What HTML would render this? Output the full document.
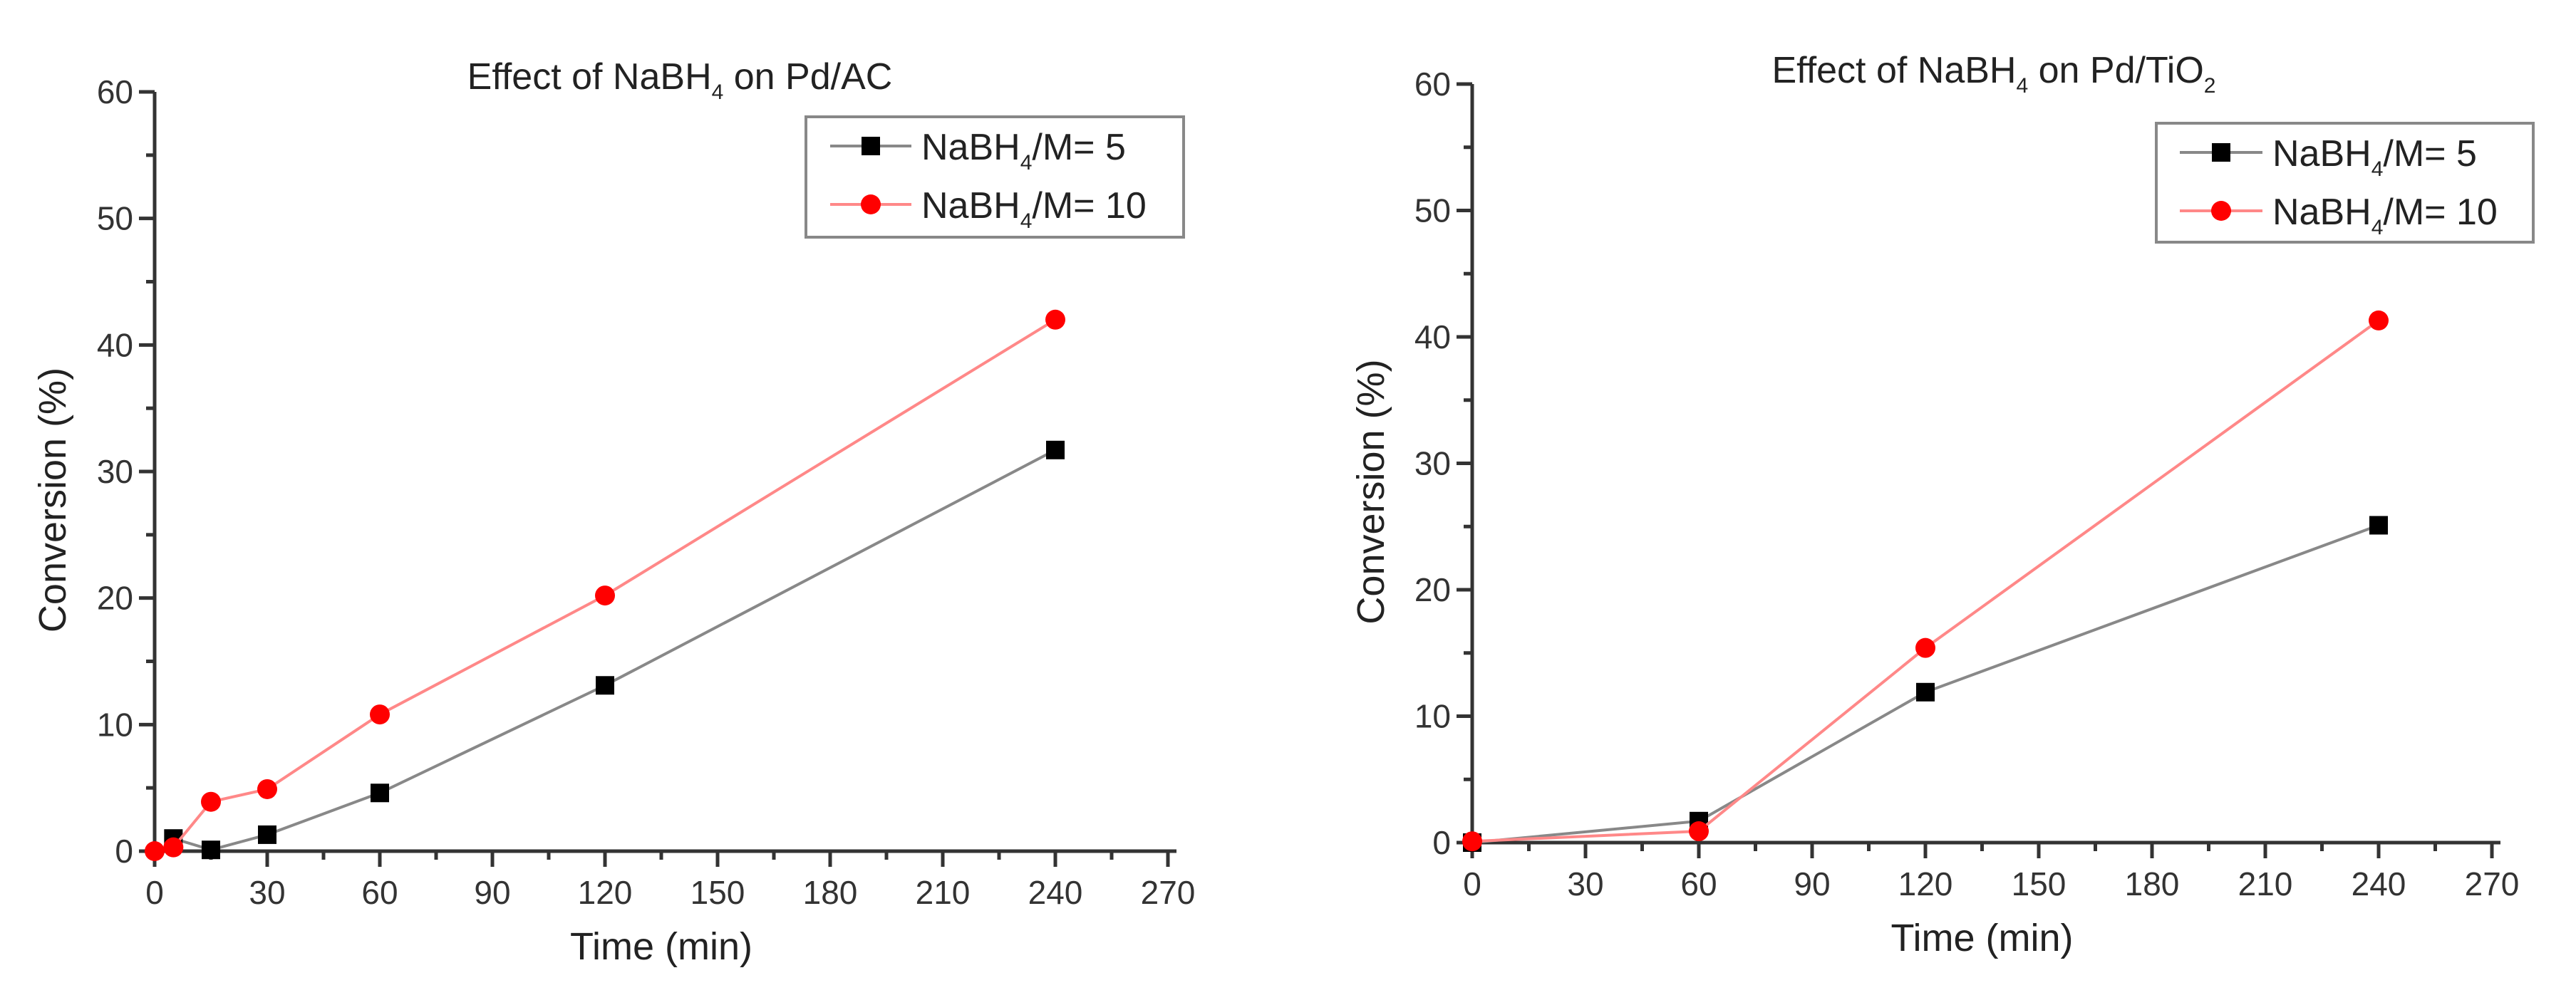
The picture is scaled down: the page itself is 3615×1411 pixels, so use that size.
<!DOCTYPE html>
<html><head><meta charset="utf-8"><style>
html,body{margin:0;padding:0;background:#fff;}
svg{display:block;font-family:"Liberation Sans",Arial,sans-serif;}
</style></head><body>
<svg id="c" width="3615" height="1411" viewBox="0 0 3615 1411"></svg>
<script>
const xTicks=[0,30,60,90,120,150,180,210,240,270];
const yTicks=[0,10,20,30,40,50,60];
const acTime5=[5,15,30,60,120,240];
const acConv5=[1.0,0.1,1.3,4.6,13.1,31.7];
const acTime10=[0,5,15,30,60,120,240];
const acConv10=[0,0.3,3.9,4.9,10.8,20.2,42.0];
const tiTime5=[0,60,120,240];
const tiConv5=[0,1.7,11.9,25.1];
const tiTime10=[0,60,120,240];
const tiConv10=[0.1,0.9,15.4,41.3];

const NS='http://www.w3.org/2000/svg';
const svg=document.getElementById('c');
function mk(tag,attrs,parent){const e=document.createElementNS(NS,tag);for(const k in attrs)e.setAttribute(k,attrs[k]);(parent||svg).appendChild(e);return e;}

function chart(cfg){
  const g=mk('g',{});
  
  
  const sx=v=>cfg.x0+(v-0)/270*(cfg.x1-cfg.x0);
  const sy=v=>cfg.y0-(v-0)/60*(cfg.y0-cfg.y1);
  const t=mk('text',{x:cfg.tx,y:cfg.ty,'text-anchor':'middle','font-size':52,fill:'#222'},g);
  
  
  t.innerHTML=cfg.title;
  const ax=mk('path',{d:`M${cfg.x0},${cfg.y1} L${cfg.x0},${cfg.y0} L${cfg.x1+12},${cfg.y0}`,stroke:'#333','stroke-width':5,fill:'none'},g);
  
  
  for(let v=0;v<=270;v+=15){
    const major=v%30===0;
    const tk=mk('line',{x1:sx(v),x2:sx(v),y1:cfg.y0,y2:cfg.y0+(major?22:12),stroke:'#333','stroke-width':5},g);
    
    
  }
  xTicks.forEach(v=>{
    const l=mk('text',{x:sx(v),y:cfg.y0+74,'text-anchor':'middle','font-size':46,fill:'#333'},g);
    
    
    l.textContent=v;
  });
  for(let v=0;v<=60;v+=5){
    const major=v%10===0;
    const tk=mk('line',{x1:cfg.x0,x2:cfg.x0-(major?22:12),y1:sy(v),y2:sy(v),stroke:'#333','stroke-width':5},g);
    
    
  }
  yTicks.forEach(v=>{
    const l=mk('text',{x:cfg.x0-30,y:sy(v)+16,'text-anchor':'end','font-size':46,fill:'#333'},g);
    
    
    l.textContent=v;
  });
  const xt=mk('text',{x:(cfg.x0+cfg.x1)/2,y:cfg.y0+152,'text-anchor':'middle','font-size':54,fill:'#222'},g);
  
  
  xt.textContent='Time (min)';
  const yt=mk('text',{x:0,y:0,'text-anchor':'middle','font-size':54,fill:'#222',transform:`translate(${cfg.ytx},${(cfg.y0+cfg.y1)/2+40}) rotate(-90)`},g);
  
  
  yt.textContent='Conversion (%)';
  cfg.series.forEach(s=>{
    const pts=s.t.map((v,i)=>sx(v)+','+sy(s.c[i])).join(' ');
    const pl=mk('polyline',{points:pts,fill:'none',stroke:s.line,'stroke-width':4},g);
    
    
    s.t.forEach((v,i)=>{
      let m;
      if(s.sq) m=mk('rect',{x:sx(v)-13,y:sy(s.c[i])-13,width:26,height:26,fill:'#000'},g);
      else m=mk('circle',{cx:sx(v),cy:sy(s.c[i]),r:14,fill:'#f00'},g);
      
      
    });
  });
  const L=cfg.leg;
  const lg=mk('g',{},g);
  
  
  mk('rect',{x:L.x,y:L.y,width:L.w,height:L.h,fill:'#fff',stroke:'#888','stroke-width':4},lg);
  const rows=[{y:L.r1,sq:true,line:'#888',txt:'5'},{y:L.r2,sq:false,line:'#f88',txt:'10'}];
  rows.forEach(r=>{
    const e=mk('g',{},lg);
    
    
    mk('line',{x1:L.s0,x2:L.s1,y1:r.y,y2:r.y,stroke:r.line,'stroke-width':4},e);
    const mx=(L.s0+L.s1)/2;
    if(r.sq) mk('rect',{x:mx-13,y:r.y-13,width:26,height:26,fill:'#000'},e);
    else mk('circle',{cx:mx,cy:r.y,r:14,fill:'#f00'},e);
    const tx=mk('text',{x:L.s1+14,y:r.y+19,'font-size':52,fill:'#222'},e);
    tx.innerHTML='NaBH<tspan font-size="30" dy="14">4</tspan><tspan dy="-14">/M= '+r.txt+'</tspan>';
  });
}

chart({name:'chart-pd-ac',x0:217,x1:1639,y0:1195,y1:129,tx:954,ty:125,ytx:92,
  title:'Effect of NaBH<tspan font-size="30" dy="14">4</tspan><tspan dy="-14"> on Pd/AC</tspan>',
  series:[{name:'nabh4-5',t:acTime5,c:acConv5,sq:true,line:'#888'},{name:'nabh4-10',t:acTime10,c:acConv10,sq:false,line:'#f88'}],
  leg:{x:1131,y:164,w:530,h:169,r1:205,r2:287,s0:1165,s1:1279}});
chart({name:'chart-pd-tio2',x0:2066,x1:3497,y0:1183,y1:118,tx:2798,ty:116,ytx:1942,
  title:'Effect of NaBH<tspan font-size="30" dy="14">4</tspan><tspan dy="-14"> on Pd/TiO</tspan><tspan font-size="30" dy="14">2</tspan>',
  series:[{name:'nabh4-5',t:tiTime5,c:tiConv5,sq:true,line:'#888'},{name:'nabh4-10',t:tiTime10,c:tiConv10,sq:false,line:'#f88'}],
  leg:{x:3026,y:173,w:529,h:167,r1:214,r2:296,s0:3059,s1:3175}});
</script>
</body></html>
